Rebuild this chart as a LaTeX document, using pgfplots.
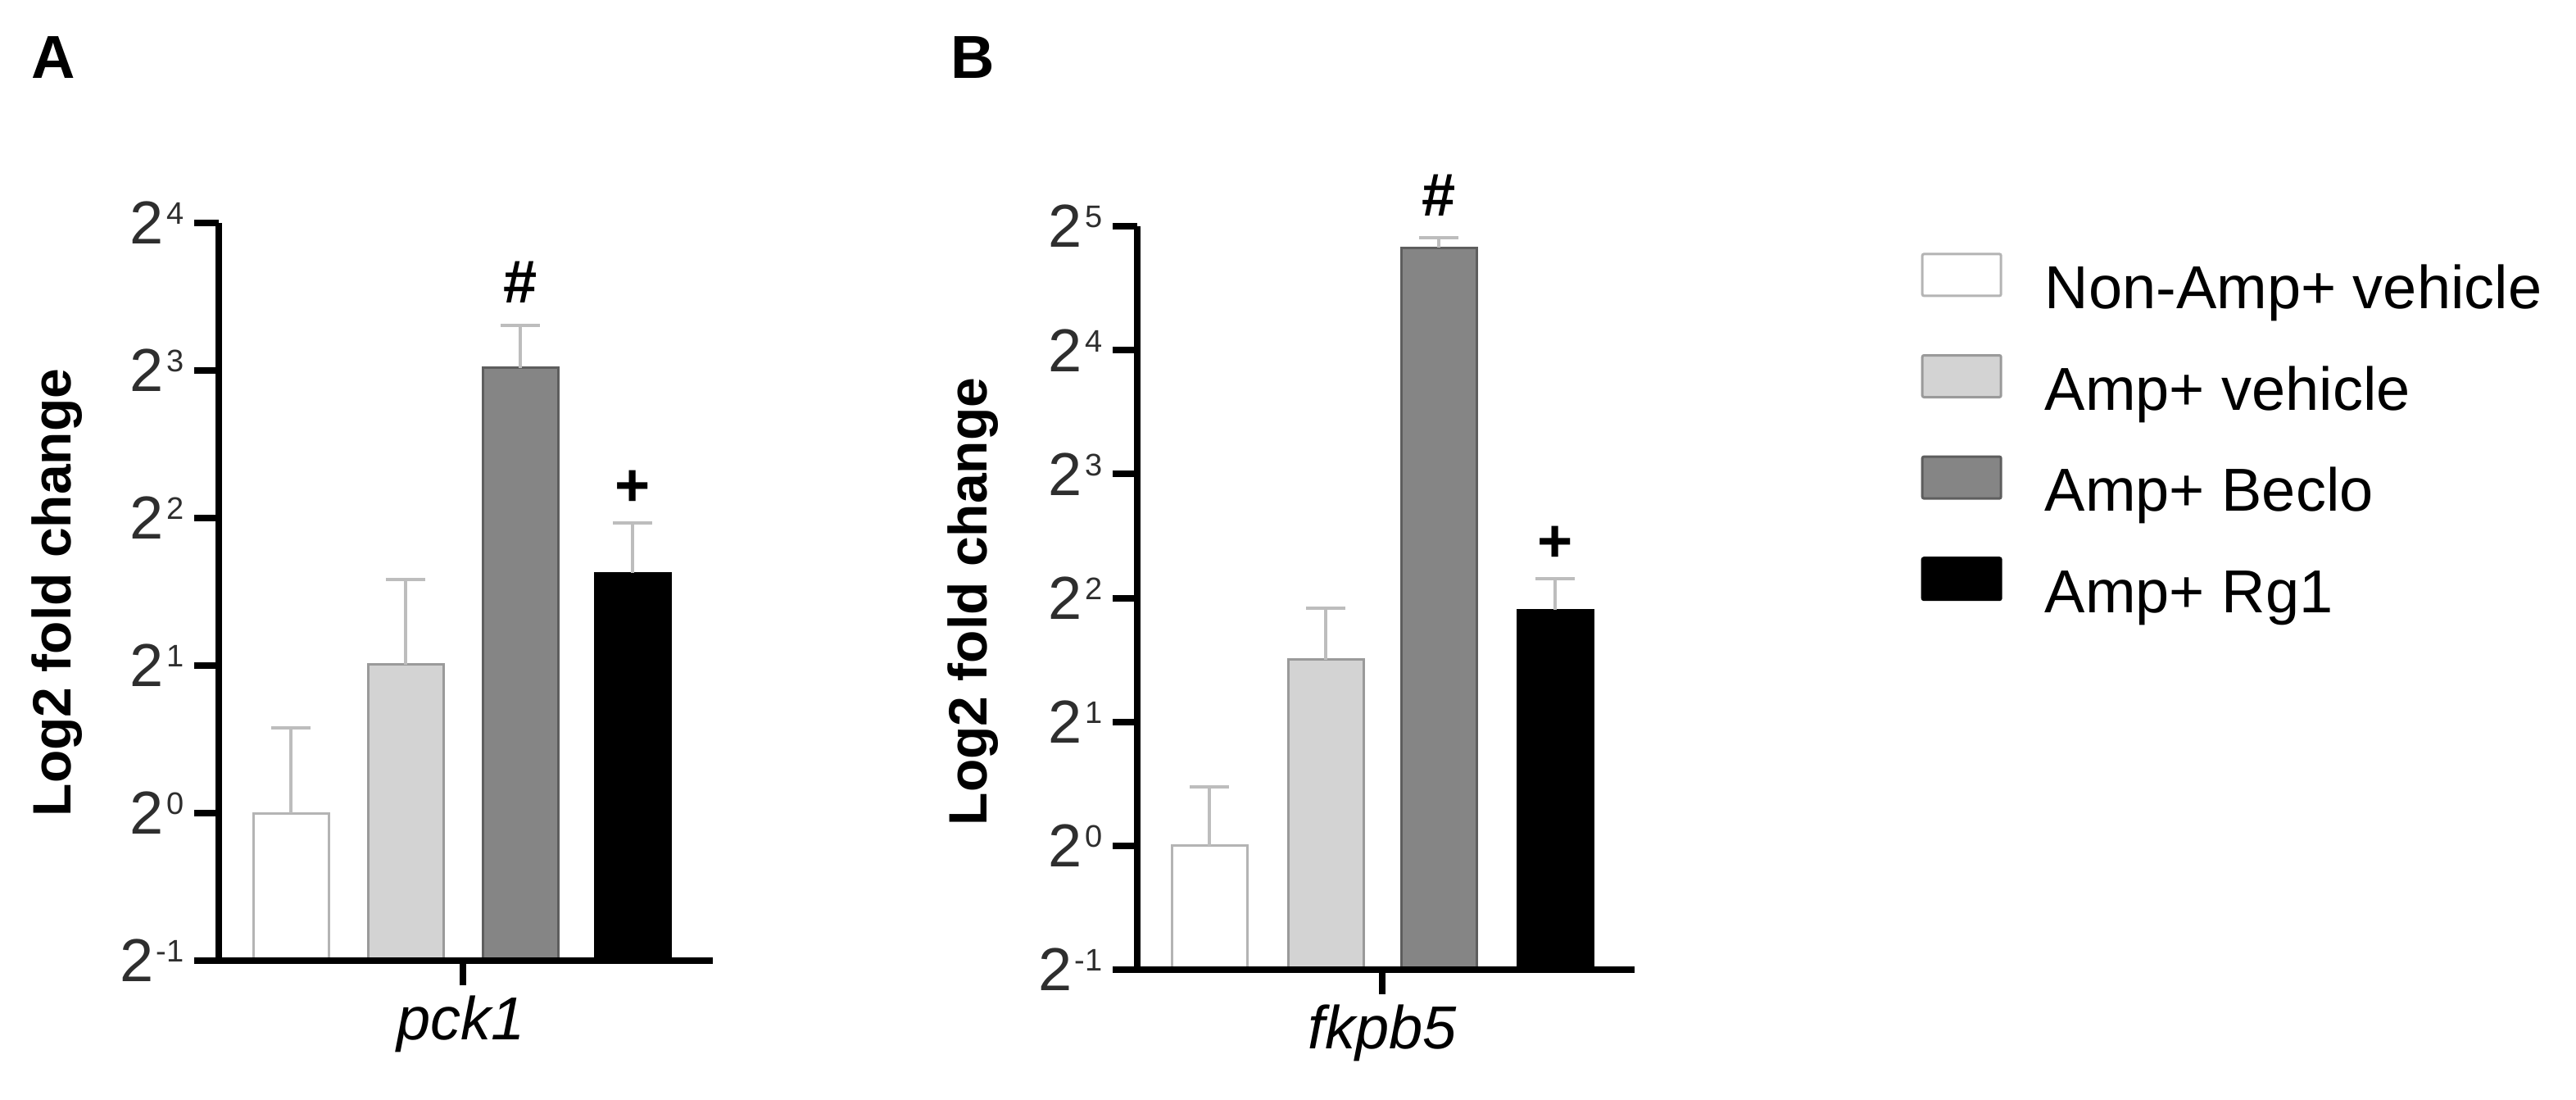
\documentclass[border=0pt]{standalone}
\usepackage{pgfplots}
\pgfplotsset{compat=1.18}
\usepackage{fontspec}
\setmainfont{Liberation Sans}

\definecolor{edgeone}{HTML}{B4B4B4}
\definecolor{filltwo}{HTML}{D3D3D3}
\definecolor{edgetwo}{HTML}{9A9A9A}
\definecolor{fillthree}{HTML}{858585}
\definecolor{edgethree}{HTML}{5E5E5E}
\definecolor{errgray}{HTML}{BDBDBD}
\definecolor{tickgray}{HTML}{2E2E2E}

% 2 with a small raised exponent
\newcommand{\pw}[1]{2\hspace{0.8pt}\raisebox{6pt}{\fontsize{9.5pt}{10pt}\selectfont #1}}

\pgfplotsset{
  gbar/.style={ybar, bar width=92, bar shift=0pt, line width=0.75pt,
    legend image code/.code={\draw[##1, line width=0.75pt, rounded corners=0.5pt] (0pt,-0.875pt) rectangle (24pt,11.875pt);},
    error bars/y dir=plus, error bars/y explicit,
    error bars/error bar style={line width=1pt, errgray},
    error bars/error mark options={rotate=90, mark size=6pt, line width=1pt, errgray}},
}

\begin{document}
\begin{tikzpicture}
\path[use as bounding box] (0,0) rectangle (786pt,-335.25pt);

\node[font=\bfseries\fontsize{18.5}{20}\selectfont, anchor=base west, inner sep=0pt] at (9.5pt,-23.75pt) {A};
\node[font=\bfseries\fontsize{18.5}{20}\selectfont, anchor=base west, inner sep=0pt] at (290pt,-23.75pt) {B};
\node[font=\bfseries\fontsize{16.5}{18}\selectfont, rotate=90, inner sep=0pt] at (17.5pt,-180.75pt) {Log2 fold change};
\node[font=\bfseries\fontsize{16.5}{18}\selectfont, rotate=90, inner sep=0pt] at (297pt,-183.5pt) {Log2 fold change};

% panel A: pck1
\begin{axis}[
  at={(66.75pt,-293pt)}, anchor=south west,
  scale only axis, width=150.75pt, height=225pt,
  ymode=log, log basis y=2, log origin y=infty, ymin=0.5, ymax=16,
  xmin=267, xmax=870, xtick={565}, xticklabels={},
  ytick={0.5,1,2,4,8,16},
  yticklabels={\pw{-1},\pw{0},\pw{1},\pw{2},\pw{3},\pw{4}},
  axis x line*=bottom, axis y line*=left, axis on top,
  axis line style={-, line width=2pt, black},
  x axis line style={shorten <=-7.5pt},
  tick align=outside, major tick length=7.5pt,
  tick style={line width=2pt, black},
  yticklabel style={font=\fontsize{18.5}{20}\selectfont, text=tickgray, inner sep=0pt, anchor=east, xshift=-3pt},
  clip=false,
]
\addplot[gbar, fill=white, draw=edgeone] coordinates {(355,1.00) +- (0,0.49)};
\addplot[gbar, fill=filltwo, draw=edgetwo] coordinates {(495,2.01) +- (0,0.99)};
\addplot[gbar, fill=fillthree, draw=edgethree] coordinates {(635,8.10) +- (0,1.79)};
\addplot[gbar, fill=black, draw=black] coordinates {(772,3.09) +- (0,0.82)};
\node[font=\bfseries\fontsize{18.5}{20}\selectfont] at (axis cs:635,12.1) {\#};
\node[font=\bfseries\fontsize{18.5}{20}\selectfont] at (axis cs:772,4.6) {+};
\node[font=\itshape\fontsize{18.5}{20}\selectfont, anchor=base, inner sep=0pt, yshift=-24pt] at (axis cs:563,0.5) {pck1};
\end{axis}

% panel B: fkpb5
\begin{axis}[
  at={(347pt,-295.75pt)}, anchor=south west,
  scale only axis, width=151.75pt, height=226.75pt,
  ymode=log, log basis y=2, log origin y=infty, ymin=0.5, ymax=32,
  xmin=1388, xmax=1995, xtick={1687}, xticklabels={},
  ytick={0.5,1,2,4,8,16,32},
  yticklabels={\pw{-1},\pw{0},\pw{1},\pw{2},\pw{3},\pw{4},\pw{5}},
  axis x line*=bottom, axis y line*=left, axis on top,
  axis line style={-, line width=2pt, black},
  x axis line style={shorten <=-7.5pt},
  tick align=outside, major tick length=7.5pt,
  tick style={line width=2pt, black},
  yticklabel style={font=\fontsize{18.5}{20}\selectfont, text=tickgray, inner sep=0pt, anchor=east, xshift=-3pt},
  clip=false,
  legend style={draw=none, fill=none, at={(1.555,0.974)}, anchor=north west,
    font=\fontsize{18.5}{20}\selectfont, row sep=10pt, column sep=13pt,
    nodes={inner sep=0pt, text height=13.4pt, text depth=3.9pt}},
  legend cell align=left,
]
\addplot[gbar, fill=white, draw=edgeone] coordinates {(1476,1.00) +- (0,0.39)};
\addplot[gbar, fill=filltwo, draw=edgetwo] coordinates {(1618,2.83) +- (0,0.94)};
\addplot[gbar, fill=fillthree, draw=edgethree] coordinates {(1756,28.4) +- (0,1.6)};
\addplot[gbar, fill=black, draw=black] coordinates {(1898,3.74) +- (0,0.71)};
\node[font=\bfseries\fontsize{18.5}{20}\selectfont] at (axis cs:1756,38) {\#};
\node[font=\bfseries\fontsize{18.5}{20}\selectfont] at (axis cs:1898,5.4) {+};
\node[font=\itshape\fontsize{18.5}{20}\selectfont, anchor=base, inner sep=0pt, yshift=-24pt] at (axis cs:1687,0.5) {fkpb5};
\legend{Non-Amp+ vehicle, Amp+ vehicle, Amp+ Beclo, Amp+ Rg1}
\end{axis}
\end{tikzpicture}
\end{document}
